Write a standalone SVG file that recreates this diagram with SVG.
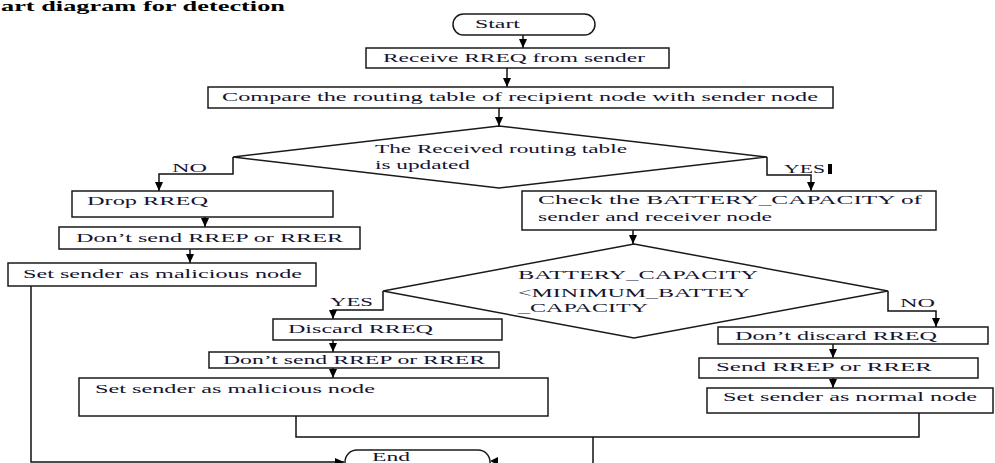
<svg xmlns="http://www.w3.org/2000/svg" width="995" height="463" viewBox="0 0 995 463">
<style>
  .box{fill:#fff;stroke:#1a1a1a;stroke-width:1.5}
  .ln{fill:none;stroke:#111;stroke-width:1.5}
  .t{font-family:"Liberation Serif","Times New Roman",serif;font-size:12px;fill:#141430}
  .title{font-family:"Liberation Serif","Times New Roman",serif;font-size:14px;font-weight:bold;fill:#000}
</style>
<defs>
  <marker id="ah" markerUnits="userSpaceOnUse" markerWidth="10" markerHeight="8" refX="9" refY="4" orient="auto">
    <path d="M0,0 L9,4 L0,8 Z" fill="#000"/>
  </marker>
</defs>
<rect width="995" height="463" fill="#fff"/>
<text class="title" x="1" y="11" textLength="284" lengthAdjust="spacingAndGlyphs">art diagram for detection</text>

<g id="connectors">
  <path class="ln" d="M523,35 V48" marker-end="url(#ah)"/>
  <path class="ln" d="M507,68 V87" marker-end="url(#ah)"/>
  <path class="ln" d="M499,108 V126" marker-end="url(#ah)"/>
  <path class="ln" d="M233,157 V174 H159 V191" marker-end="url(#ah)"/>
  <path class="ln" d="M767,157 V175 H811 V191" marker-end="url(#ah)"/>
  <path class="ln" d="M205,217 V227" marker-end="url(#ah)"/>
  <path class="ln" d="M190,249 V263" marker-end="url(#ah)"/>
  <path class="ln" d="M633,230 V244" marker-end="url(#ah)"/>
  <path class="ln" d="M383,291 V310 H333 V319" marker-end="url(#ah)"/>
  <path class="ln" d="M888,291 V311 H936 V327" marker-end="url(#ah)"/>
  <path class="ln" d="M333,340 V352" marker-end="url(#ah)"/>
  <path class="ln" d="M333,368 V378" marker-end="url(#ah)"/>
  <path class="ln" d="M833,344 V358" marker-end="url(#ah)"/>
  <path class="ln" d="M833,378 V388" marker-end="url(#ah)"/>
  <path class="ln" d="M31,286 V462 H344" marker-end="url(#ah)"/>
  <path class="ln" d="M296,416 V437 H919 V413"/>
  <path class="ln" d="M593,437 V463"/>
  <path d="M490,461 L498,457 L498,465 Z" fill="#000"/>
  <rect x="828" y="164" width="4" height="10" fill="#000"/>
</g>

<g id="start">
  <rect class="box" x="453" y="14" width="142" height="21" rx="10.5"/>
  <text class="t" x="475" y="28" textLength="45" lengthAdjust="spacingAndGlyphs">Start</text>
</g>
<g id="receive">
  <rect class="box" x="366" y="48" width="303" height="20"/>
  <text class="t" x="383" y="62" textLength="262" lengthAdjust="spacingAndGlyphs">Receive RREQ from sender</text>
</g>
<g id="compare">
  <rect class="box" x="208" y="87" width="625" height="21"/>
  <text class="t" x="222" y="101" textLength="596" lengthAdjust="spacingAndGlyphs">Compare the routing table of recipient node with sender node</text>
</g>
<g id="decision1">
  <polygon class="box" points="499,126 767,157 499,188 233,157"/>
  <text class="t" x="375" y="153" textLength="252" lengthAdjust="spacingAndGlyphs">The Received routing table</text>
  <text class="t" x="375" y="169" textLength="95" lengthAdjust="spacingAndGlyphs">is updated</text>
</g>
<g id="label-no1"><text class="t" x="172" y="172" textLength="35" lengthAdjust="spacingAndGlyphs">NO</text></g>
<g id="label-yes1"><text class="t" x="784" y="173" textLength="41" lengthAdjust="spacingAndGlyphs">YES</text></g>

<g id="drop">
  <rect class="box" x="72" y="191" width="261" height="26"/>
  <text class="t" x="87" y="205" textLength="121" lengthAdjust="spacingAndGlyphs">Drop RREQ</text>
</g>
<g id="check">
  <rect class="box" x="522" y="191" width="414" height="39"/>
  <text class="t" x="538" y="204" textLength="384" lengthAdjust="spacingAndGlyphs">Check the BATTERY_CAPACITY of</text>
  <text class="t" x="538" y="221" textLength="234" lengthAdjust="spacingAndGlyphs">sender and receiver node</text>
</g>
<g id="dontsend1">
  <rect class="box" x="59" y="227" width="301" height="22"/>
  <text class="t" x="76" y="242" textLength="267" lengthAdjust="spacingAndGlyphs">Don’t send RREP or RRER</text>
</g>
<g id="malicious1">
  <rect class="box" x="8" y="263" width="308" height="23"/>
  <text class="t" x="23" y="278" textLength="279" lengthAdjust="spacingAndGlyphs">Set sender as malicious node</text>
</g>
<g id="decision2">
  <polygon class="box" points="634,244 888,291 634,338 383,291"/>
  <text class="t" x="518" y="279" textLength="240" lengthAdjust="spacingAndGlyphs">BATTERY_CAPACITY</text>
  <text class="t" x="518" y="297" textLength="232" lengthAdjust="spacingAndGlyphs">&lt;MINIMUM_BATTEY</text>
  <text class="t" x="518" y="312" textLength="130" lengthAdjust="spacingAndGlyphs">_CAPACITY</text>
</g>
<g id="label-yes2"><text class="t" x="330" y="306" textLength="43" lengthAdjust="spacingAndGlyphs">YES</text></g>
<g id="label-no2"><text class="t" x="900" y="307" textLength="35" lengthAdjust="spacingAndGlyphs">NO</text></g>

<g id="discard">
  <rect class="box" x="273" y="319" width="229" height="21"/>
  <text class="t" x="288" y="333" textLength="145" lengthAdjust="spacingAndGlyphs">Discard RREQ</text>
</g>
<g id="dontsend2">
  <rect class="box" x="209" y="352" width="290" height="16"/>
  <text class="t" x="223" y="364" textLength="262" lengthAdjust="spacingAndGlyphs">Don’t send RREP or RRER</text>
</g>
<g id="malicious2">
  <rect class="box" x="79" y="378" width="469" height="38"/>
  <text class="t" x="95" y="393" textLength="280" lengthAdjust="spacingAndGlyphs">Set sender as malicious node</text>
</g>
<g id="dontdiscard">
  <rect class="box" x="718" y="327" width="270" height="17"/>
  <text class="t" x="735" y="340" textLength="202" lengthAdjust="spacingAndGlyphs">Don’t discard RREQ</text>
</g>
<g id="sendrrep">
  <rect class="box" x="699" y="358" width="279" height="20"/>
  <text class="t" x="716" y="371" textLength="216" lengthAdjust="spacingAndGlyphs">Send RREP or RRER</text>
</g>
<g id="normal">
  <rect class="box" x="707" y="388" width="286" height="25"/>
  <text class="t" x="723" y="401" textLength="254" lengthAdjust="spacingAndGlyphs">Set sender as normal node</text>
</g>
<g id="end">
  <rect class="box" x="345" y="450" width="145" height="30" rx="12"/>
  <text class="t" x="372" y="461" font-size="10" textLength="38" lengthAdjust="spacingAndGlyphs">End</text>
</g>
</svg>
